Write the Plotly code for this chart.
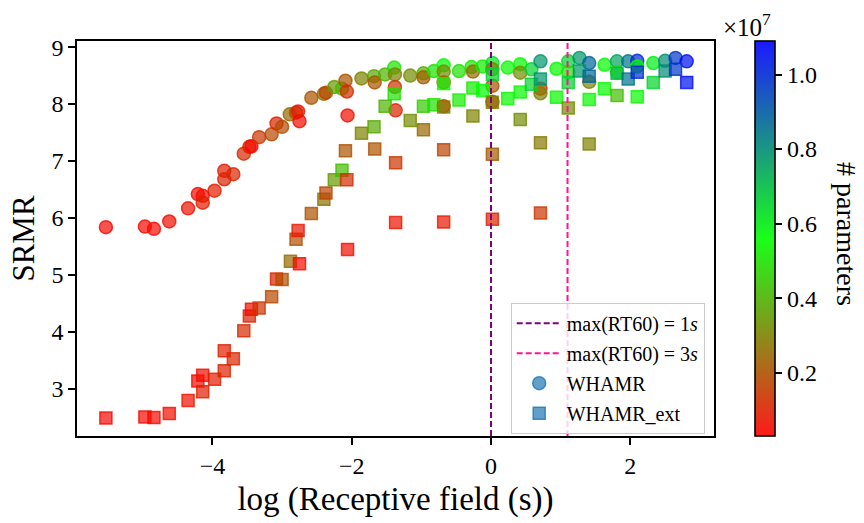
import math
import plotly.graph_objects as go

# WHAMR results: log receptive field (s), SRMR, number of parameters (x1e7)
whamr_logrf = [-5.53, -4.97, -4.84, -4.62, -4.35, -4.21, -4.14, -4.14, -3.97, -3.83,
               -3.83, -3.70, -3.55, -3.47, -3.44, -3.33, -3.15, -3.08, -3.00, -2.89,
               -2.80, -2.77, -2.75, -2.58, -2.40, -2.37, -2.25, -2.14, -2.09, -2.07,
               -2.06, -1.86, -1.68, -1.67, -1.52, -1.39, -1.38, -1.38, -1.37, -1.16,
               -0.97, -0.97, -0.82, -0.68, -0.68, -0.68, -0.68, -0.46, -0.28, -0.26,
               -0.12, 0.02, 0.02, 0.02, 0.02, 0.24, 0.42, 0.42, 0.58, 0.71,
               0.71, 0.71, 0.94, 1.11, 1.11, 1.27, 1.41, 1.41, 1.63, 1.81,
               1.81, 1.97, 2.10, 2.10, 2.33, 2.50, 2.65, 2.81]
whamr_srmr = [5.84, 5.85, 5.81, 5.94, 6.17, 6.42, 6.39, 6.27, 6.48, 6.83,
              6.68, 6.77, 7.13, 7.25, 7.26, 7.42, 7.47, 7.66, 7.60, 7.82,
              7.85, 7.87, 7.70, 8.11, 8.18, 8.20, 8.30, 8.27, 8.41, 8.22,
              7.80, 8.45, 8.49, 8.38, 8.52, 8.64, 8.52, 8.30, 7.89, 8.50,
              8.54, 8.47, 8.58, 8.68, 8.57, 8.38, 7.96, 8.58, 8.65, 8.57,
              8.66, 8.72, 8.61, 8.32, 8.04, 8.64, 8.70, 8.55, 8.61, 8.75,
              8.27, 8.19, 8.62, 8.75, 8.56, 8.81, 8.72, 8.39, 8.69, 8.75,
              8.56, 8.75, 8.76, 8.66, 8.72, 8.76, 8.81, 8.75]
whamr_params = [0.05, 0.05, 0.05, 0.06, 0.07, 0.05, 0.06, 0.09, 0.09, 0.09,
                0.10, 0.11, 0.12, 0.10, 0.05, 0.14, 0.18, 0.10, 0.19, 0.25,
                0.19, 0.08, 0.05, 0.20, 0.27, 0.17, 0.35, 0.42, 0.20, 0.12,
                0.06, 0.30, 0.38, 0.20, 0.40, 0.50, 0.30, 0.14, 0.10, 0.32,
                0.40, 0.22, 0.50, 0.56, 0.32, 0.14, 0.10, 0.50, 0.52, 0.25,
                0.52, 0.62, 0.30, 0.20, 0.12, 0.55, 0.55, 0.32, 0.65, 0.78,
                0.14, 0.30, 0.55, 0.65, 0.50, 0.78, 0.88, 0.30, 0.55, 0.75,
                0.50, 0.85, 1.00, 0.55, 0.60, 0.80, 0.98, 1.06]

# WHAMR_ext results
ext_logrf = [-5.53, -4.97, -4.84, -4.62, -4.35, -4.21, -4.14, -4.14, -3.97, -3.83,
             -3.83, -3.70, -3.55, -3.47, -3.44, -3.33, -3.15, -3.08, -3.00, -2.88,
             -2.80, -2.77, -2.75, -2.58, -2.40, -2.37, -2.25, -2.14, -2.09, -2.07,
             -2.06, -1.86, -1.68, -1.67, -1.52, -1.39, -1.37, -1.37, -1.16, -0.97,
             -0.97, -0.82, -0.68, -0.68, -0.68, -0.68, -0.46, -0.26, -0.26, -0.12,
             0.02, 0.02, 0.02, 0.02, 0.24, 0.42, 0.42, 0.58, 0.71, 0.71,
             0.71, 0.94, 1.11, 1.11, 1.27, 1.41, 1.41, 1.41, 1.63, 1.81,
             1.81, 1.97, 2.10, 2.10, 2.33, 2.50, 2.65, 2.81]
ext_srmr = [2.49, 2.51, 2.50, 2.57, 2.80, 3.14, 3.24, 2.95, 3.17, 3.67,
            3.32, 3.53, 4.02, 4.28, 4.40, 4.42, 4.62, 4.93, 4.92, 5.24,
            5.63, 5.78, 5.20, 6.08, 6.33, 6.44, 6.67, 6.84, 7.18, 6.67,
            5.45, 7.49, 7.60, 7.21, 7.96, 8.18, 6.97, 5.92, 7.71, 7.96,
            7.55, 7.99, 8.36, 7.95, 7.20, 5.93, 8.07, 8.28, 7.79, 8.24,
            8.52, 8.03, 7.12, 5.98, 8.10, 8.21, 7.73, 8.35, 8.44, 7.32,
            6.09, 8.12, 8.38, 7.93, 8.58, 8.49, 8.08, 7.30, 8.27, 8.54,
            8.15, 8.44, 8.56, 8.13, 8.38, 8.58, 8.61, 8.38]
ext_params = [0.05, 0.05, 0.05, 0.06, 0.07, 0.05, 0.06, 0.09, 0.09, 0.09,
              0.10, 0.11, 0.12, 0.10, 0.05, 0.14, 0.18, 0.10, 0.19, 0.25,
              0.19, 0.08, 0.05, 0.20, 0.27, 0.17, 0.35, 0.42, 0.20, 0.12,
              0.06, 0.30, 0.38, 0.20, 0.40, 0.50, 0.14, 0.07, 0.32, 0.45,
              0.25, 0.50, 0.56, 0.30, 0.17, 0.08, 0.52, 0.52, 0.30, 0.56,
              0.65, 0.30, 0.22, 0.10, 0.55, 0.55, 0.32, 0.65, 0.78, 0.28,
              0.14, 0.55, 0.65, 0.32, 0.78, 0.88, 0.55, 0.30, 0.55, 0.70,
              0.42, 0.85, 1.00, 0.55, 0.65, 0.80, 0.98, 1.06]

# maximum reverberation times marked as vertical references
rt60_max = [1, 3]
rt60_labels = ["max(RT60) = 1<i>s</i>", "max(RT60) = 3<i>s</i>"]
rt60_colors = ["purple", "deeppink"]

PARAM_SCALE = 1e7
P_MIN, P_MAX = 0.03e7, 1.09e7
cbar_ticks = [0.2, 0.4, 0.6, 0.8, 1.0]

FONT = "Liberation Serif"


def scale(alpha):
    return [[0.0, f"rgba(255,0,0,{alpha})"],
            [0.5, f"rgba(0,255,0,{alpha})"],
            [1.0, f"rgba(0,0,255,{alpha})"]]


def marker(params, symbol, size):
    vals = [p * PARAM_SCALE for p in params]
    return dict(symbol=symbol, size=size, color=vals, colorscale=scale(0.7),
                cmin=P_MIN, cmax=P_MAX,
                line=dict(width=1.5, color=vals, colorscale=scale(0.8),
                          cmin=P_MIN, cmax=P_MAX))


fig = go.Figure()

fig.add_trace(go.Scatter(x=whamr_logrf, y=whamr_srmr, mode="markers",
                         marker=marker(whamr_params, "circle", 13),
                         showlegend=False, hoverinfo="skip"))
fig.add_trace(go.Scatter(x=ext_logrf, y=ext_srmr, mode="markers",
                         marker=marker(ext_params, "square", 12),
                         showlegend=False, hoverinfo="skip"))

# colour bar for the parameter count
fig.add_trace(go.Scatter(
    x=[None], y=[None], mode="markers", showlegend=False, hoverinfo="skip",
    marker=dict(color=[P_MIN], colorscale=scale(0.9), cmin=P_MIN, cmax=P_MAX,
                showscale=True,
                colorbar=dict(x=1.0644, xanchor="left", xpad=0, ypad=0,
                              y=0.5, yanchor="middle", len=1, lenmode="fraction",
                              thickness=20, thicknessmode="pixels",
                              outlinewidth=1.6, outlinecolor="black",
                              ticks="outside", ticklen=7, tickwidth=1.6,
                              tickcolor="black",
                              tickvals=[t * PARAM_SCALE for t in cbar_ticks],
                              ticktext=[f"{t:.1f}" for t in cbar_ticks],
                              tickfont=dict(family=FONT, size=24, color="black")))))

# reference lines and their legend entries
for rt, label, col in zip(rt60_max, rt60_labels, rt60_colors):
    fig.add_shape(type="line", xref="x", yref="paper", x0=math.log(rt), x1=math.log(rt),
                  y0=0, y1=1, layer="above",
                  line=dict(color=col, width=2, dash="6px,3px"))
    fig.add_trace(go.Scatter(x=[None], y=[None], mode="lines", name=label,
                             legendgroup=label,
                             line=dict(color=col, width=2, dash="6px,3px")))

for name, sym in [("WHAMR", "circle"), ("WHAMR_ext", "square")]:
    fig.add_trace(go.Scatter(x=[None], y=[None], mode="markers", name=name,
                             legendgroup=name,
                             marker=dict(symbol=sym, size=13 if sym == "circle" else 12,
                                         color="rgba(31,119,180,0.7)",
                                         line=dict(width=1.5, color="rgba(31,119,180,0.8)"))))

axis_common = dict(showline=True, linewidth=1.6, linecolor="black", mirror=True,
                   ticks="outside", ticklen=7, tickwidth=1.6, tickcolor="black",
                   showgrid=False, zeroline=False,
                   tickfont=dict(family=FONT, size=24, color="black"))

fig.update_layout(
    width=864, height=523,
    margin=dict(l=77, r=150, t=41, b=75, pad=0),
    plot_bgcolor="white", paper_bgcolor="white",
    font=dict(family=FONT, color="black"),
    xaxis=dict(range=[-5.945, 3.202], tickvals=[-4, -2, 0, 2],
               title=dict(text="log (Receptive field (s))",
                          font=dict(family=FONT, size=33), standoff=9),
               **axis_common),
    yaxis=dict(range=[2.175, 9.107], tickvals=[3, 4, 5, 6, 7, 8, 9],
               title=dict(text="SRMR", font=dict(family=FONT, size=31), standoff=8),
               **axis_common),
    legend=dict(x=0.9854, y=0.006, xanchor="right", yanchor="bottom",
                bgcolor="rgba(255,255,255,0.8)", bordercolor="#cccccc", borderwidth=1,
                font=dict(family=FONT, size=20, color="black"),
                tracegroupgap=1, itemwidth=45),
    annotations=[
        dict(text="# parameters", xref="paper", yref="paper", x=1.208, y=0.51,
             xanchor="center", yanchor="middle", textangle=90, showarrow=False,
             font=dict(family=FONT, size=28, color="black")),
        dict(text="×10<sup>7</sup>", xref="paper", yref="paper", x=1.052, y=1.04,
             xanchor="center", yanchor="middle", showarrow=False,
             font=dict(family=FONT, size=25, color="black")),
    ],
)

fig.write_html("out.html")
